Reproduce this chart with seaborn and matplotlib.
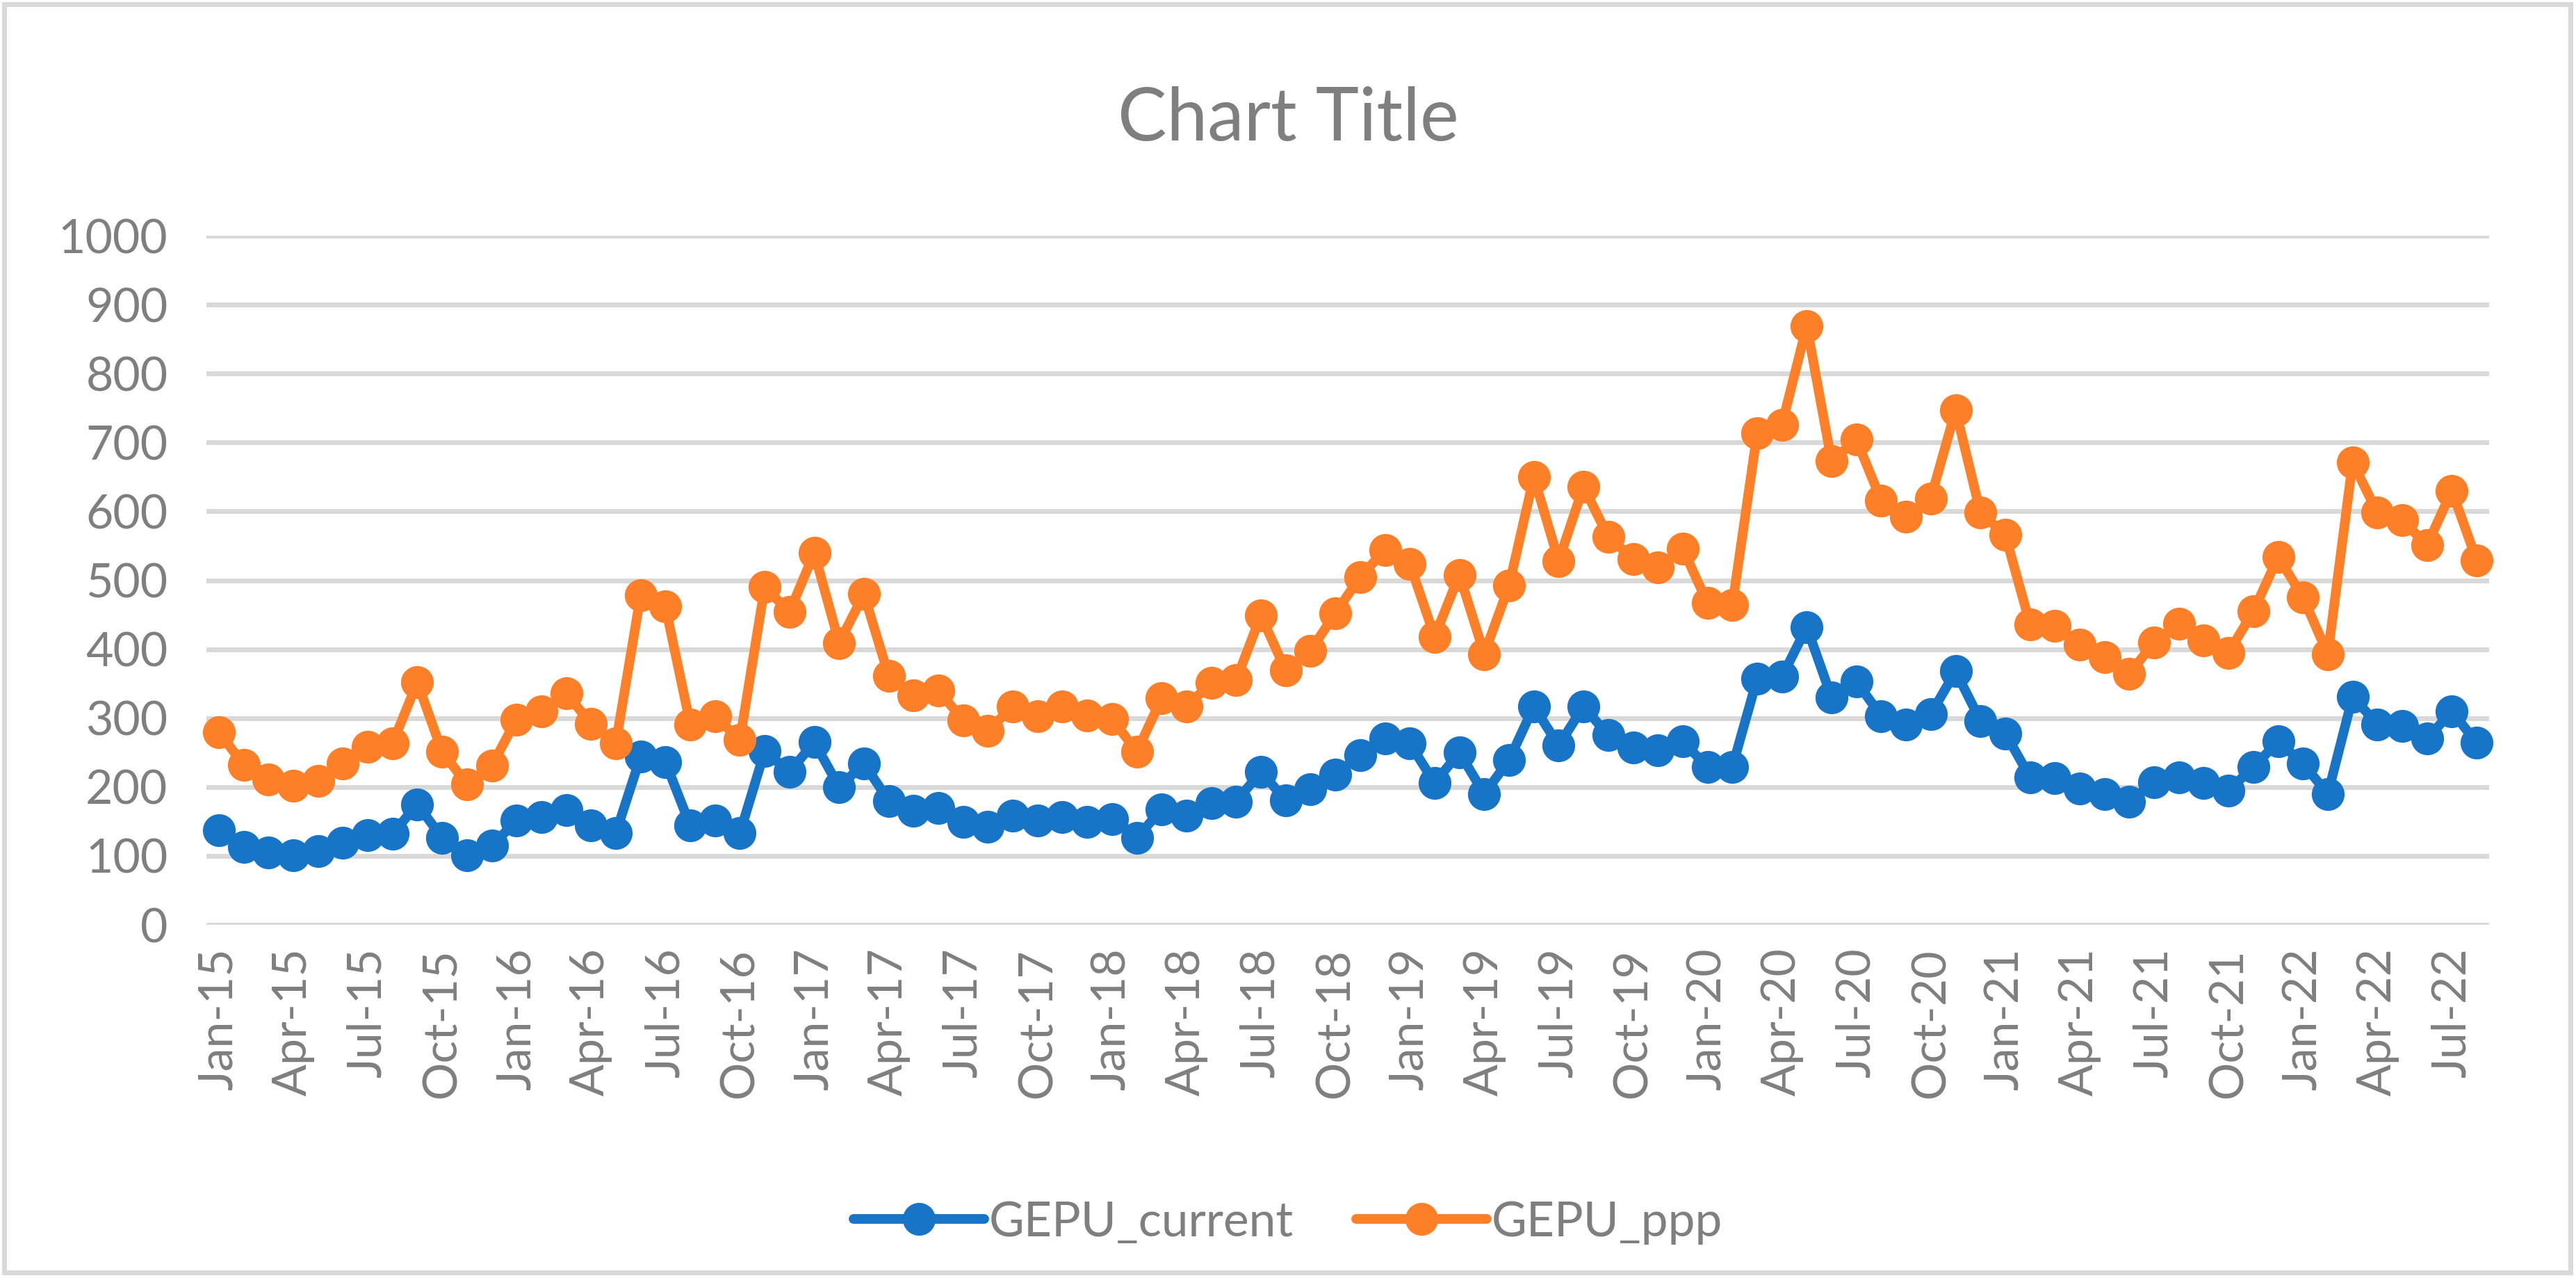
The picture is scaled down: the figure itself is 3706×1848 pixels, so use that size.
import numpy as np
import pandas as pd
import matplotlib
matplotlib.use("Agg")
import matplotlib.pyplot as plt
import seaborn as sns
from matplotlib.patches import Rectangle
from matplotlib.lines import Line2D

# ---- data ----
months = pd.date_range("2015-01-01", "2022-08-01", freq="MS")
month_labels = [d.strftime("%b-%y") for d in months]

gepu_current = [
    137, 113, 105, 101, 107, 119, 130, 132, 175, 126, 101, 115,
    151, 156, 167, 144, 133, 244, 236, 144, 151, 133, 252, 222,
    265, 200, 234, 180, 165, 170, 149, 142, 158, 151, 156, 149,
    153, 126, 168, 158, 177, 179, 222, 181, 197, 218, 246, 270,
    263, 206, 250, 190, 239, 317, 260, 317, 275, 257, 253, 266,
    229, 229, 357, 360, 432, 330, 353, 303, 291, 306, 368, 296,
    278, 214, 213, 198, 190, 179, 207, 214, 206, 195, 229, 266,
    234, 190, 331, 291, 289, 270, 310, 264,
]
gepu_ppp = [
    280, 232, 211, 202, 209, 234, 258, 263, 352, 251, 204, 231,
    298, 310, 336, 292, 263, 478, 462, 291, 303, 268, 490, 454,
    540, 409, 480, 361, 333, 340, 297, 282, 317, 303, 317, 304,
    299, 251, 329, 317, 351, 355, 449, 369, 398, 452, 505, 544,
    524, 418, 508, 393, 492, 650, 528, 636, 563, 531, 519, 546,
    467, 464, 713, 726, 869, 673, 704, 616, 592, 619, 747, 598,
    566, 436, 434, 407, 388, 364, 410, 437, 413, 395, 455, 534,
    475, 393, 671, 598, 587, 551, 630, 529,
]
series_names = ["GEPU_current", "GEPU_ppp"]
colors = ["#1874C6", "#FD7F28"]
y_ticks = [0, 100, 200, 300, 400, 500, 600, 700, 800, 900, 1000]

df = pd.DataFrame({
    "idx": list(range(len(months))) * 2,
    "value": gepu_current + gepu_ppp,
    "series": [series_names[0]] * len(months) + [series_names[1]] * len(months),
})

# ---- style ----
sns.set_theme(style="white")
plt.rcParams["font.family"] = ["Lato", "DejaVu Sans"]
text_color = "#7F7F7F"
grid_color = "#D9D9D9"

DPI = 200
fig = plt.figure(figsize=(3706 / DPI, 1848 / DPI), dpi=DPI)
fig.patch.set_facecolor("white")

# chart border
fig.add_artist(Rectangle((6 / 3706, 18 / 1848), 1 - 14 / 3706, 1 - 24 / 1848,
                         transform=fig.transFigure, fill=False,
                         edgecolor=grid_color, linewidth=2.5))

ax = fig.add_axes([297 / 3706, (1848 - 1330) / 1848, (3581 - 297) / 3706, (1330 - 339) / 1848])

sns.lineplot(data=df, x="idx", y="value", hue="series", palette=colors,
             marker="o", markersize=17, markeredgewidth=0, linewidth=5,
             legend=False, ax=ax, zorder=3)
for ln in ax.lines:
    ln.set_clip_on(False)

ax.set_xlim(-0.5, len(months) - 0.5)
ax.set_ylim(0, 1000)
ax.set_yticks(y_ticks)
ax.set_yticklabels([str(v) for v in y_ticks])
tick_pos = list(range(0, len(months), 3))
ax.set_xticks(tick_pos)
ax.set_xticklabels([month_labels[i] for i in tick_pos], rotation=90)
ax.grid(axis="y", color=grid_color, linewidth=2.5, zorder=0)
ax.grid(axis="x", visible=False)
for s in ax.spines.values():
    s.set_visible(False)
ax.tick_params(axis="both", length=0, labelsize=24.5, colors=text_color)
ax.tick_params(axis="y", pad=20)
ax.tick_params(axis="x", pad=12)
ax.set_xlabel("")
ax.set_ylabel("")

fig.text(0.5, 1 - 172 / 1848, "Chart Title", ha="center", va="center",
         fontsize=38, color=text_color)

handles = [Line2D([0], [0], color=c, linewidth=5, marker="o", markersize=17,
                  markeredgewidth=0) for c in colors]
fig.legend(handles, series_names, loc="center", bbox_to_anchor=(0.5, 1 - 1758 / 1848),
           ncol=2, frameon=False, fontsize=25, labelcolor=text_color,
           handlelength=2.7, handletextpad=0.1, columnspacing=1.3)

fig.savefig("out.png", dpi=DPI)
